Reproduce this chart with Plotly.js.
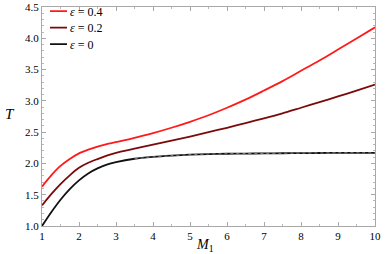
<!DOCTYPE html>
<html>
<head>
<meta charset="utf-8">
<script src="https://cdn.plot.ly/plotly-3.0.1.min.js"></script>
<style>html,body{margin:0;padding:0;background:#fff;}#chart{width:390px;height:254px;}</style>
</head>
<body>
<div id="chart"></div>
<script>
const M1 = [1, 1.25, 1.5, 1.75, 2, 2.25, 2.5, 2.75, 3, 3.5, 4, 4.5, 5, 5.5, 6, 6.5, 7, 7.5, 8, 8.5, 9, 9.5, 10];
const T_eps04 = [1.63, 1.81, 1.96, 2.07, 2.16, 2.22, 2.27, 2.31, 2.34, 2.41, 2.485, 2.57, 2.665, 2.77, 2.89, 3.02, 3.165, 3.315, 3.48, 3.645, 3.82, 3.995, 4.175];
const T_eps02 = [1.33, 1.51, 1.67, 1.81, 1.93, 2.01, 2.07, 2.125, 2.17, 2.235, 2.30, 2.365, 2.43, 2.50, 2.57, 2.645, 2.72, 2.80, 2.89, 2.98, 3.07, 3.165, 3.26];
const T_eps0  = [1.00, 1.22, 1.42, 1.59, 1.73, 1.84, 1.92, 1.98, 2.02, 2.075, 2.105, 2.125, 2.14, 2.15, 2.155, 2.158, 2.16, 2.163, 2.165, 2.167, 2.17, 2.17, 2.17];
const seriesNames = ['<i>ε</i> = 0.4', '<i>ε</i> = 0.2', '<i>ε</i> = 0'];
const xTicks = [1, 2, 3, 4, 5, 6, 7, 8, 9, 10];
const yTicks = [1.0, 1.5, 2.0, 2.5, 3.0, 3.5, 4.0, 4.5];

const serif = 'Liberation Serif, Times New Roman, serif';
const lineBase = {mode: 'lines', line: {width: 1.8, shape: 'spline', smoothing: 0.8}};
const traces = [
  Object.assign({}, lineBase, {x: M1, y: T_eps04, name: seriesNames[0], line: Object.assign({}, lineBase.line, {color: '#ff1a1a'})}),
  Object.assign({}, lineBase, {x: M1, y: T_eps02, name: seriesNames[1], line: Object.assign({}, lineBase.line, {color: '#7a0a0a'})}),
  Object.assign({}, lineBase, {x: M1, y: T_eps0, name: seriesNames[2], line: Object.assign({}, lineBase.line, {color: '#111111'})}),
  {x: M1.slice(9), y: T_eps0.slice(9), mode: 'lines', showlegend: false, hoverinfo: 'skip',
   line: {color: '#9a9a9a', width: 0.8, dash: '3px,3px', shape: 'spline', smoothing: 0.8}}
];

const axisCommon = {
  showgrid: false, zeroline: false, showline: true, linecolor: '#a8a8a8', linewidth: 1,
  mirror: 'allticks', ticks: 'inside', ticklen: 4, tickcolor: '#a8a8a8', tickwidth: 1,
  tickfont: {family: serif, size: 11, color: '#000'},
  minor: {ticks: 'inside', ticklen: 2, tickcolor: '#b8b8b8', tickwidth: 1}
};

const layout = {
  width: 390, height: 254,
  margin: {l: 42, r: 15, t: 4, b: 28},
  paper_bgcolor: '#fff', plot_bgcolor: '#fff',
  showlegend: true,
  legend: {x: 0.0, y: 1.015, xanchor: 'left', yanchor: 'top', bgcolor: 'rgba(0,0,0,0)',
           font: {family: serif, size: 12, color: '#000'}, tracegroupgap: 0, itemwidth: 30},
  xaxis: Object.assign({}, axisCommon, {range: [1, 10], tickvals: xTicks, ticktext: xTicks.map(String),
           minor: Object.assign({}, axisCommon.minor, {dtick: 0.5})}),
  yaxis: Object.assign({}, axisCommon, {range: [1, 4.5], tickvals: yTicks, ticktext: yTicks.map(v => v.toFixed(1)),
           minor: Object.assign({}, axisCommon.minor, {dtick: 0.1})}),
  annotations: [
    {text: '<i>T</i>', xref: 'paper', yref: 'paper', x: -0.075, y: 0.51, xanchor: 'right', yanchor: 'middle',
     showarrow: false, font: {family: serif, size: 15, color: '#000'}},
    {text: '<i>M</i><sub>1</sub>', xref: 'paper', yref: 'paper', x: 0.49, y: -0.04, xanchor: 'center', yanchor: 'top',
     showarrow: false, font: {family: serif, size: 14, color: '#000'}}
  ]
};

Plotly.newPlot('chart', traces, layout, {staticPlot: true, displayModeBar: false}).then(function (gd) {
  // compact legend like the reference: short sample lines, tighter rows
  const rows = gd.querySelectorAll('.legend .traces');
  let y0 = null;
  rows.forEach(function (g, i) {
    g.querySelectorAll('path.js-line').forEach(function (p) { p.setAttribute('d', 'M8,0h17'); });
    g.querySelectorAll('text.legendtext').forEach(function (t) { t.setAttribute('x', '28'); });
    const m = /translate\(\s*([-\d.]+)[ ,]+([-\d.]+)\s*\)/.exec(g.getAttribute('transform') || '');
    if (m) {
      const tx = parseFloat(m[1]), ty = parseFloat(m[2]);
      if (y0 === null) y0 = ty - 7;
      g.setAttribute('transform', 'translate(' + tx + ',' + (y0 + i * 16.5) + ')');
    }
  });
});
</script>
</body>
</html>
